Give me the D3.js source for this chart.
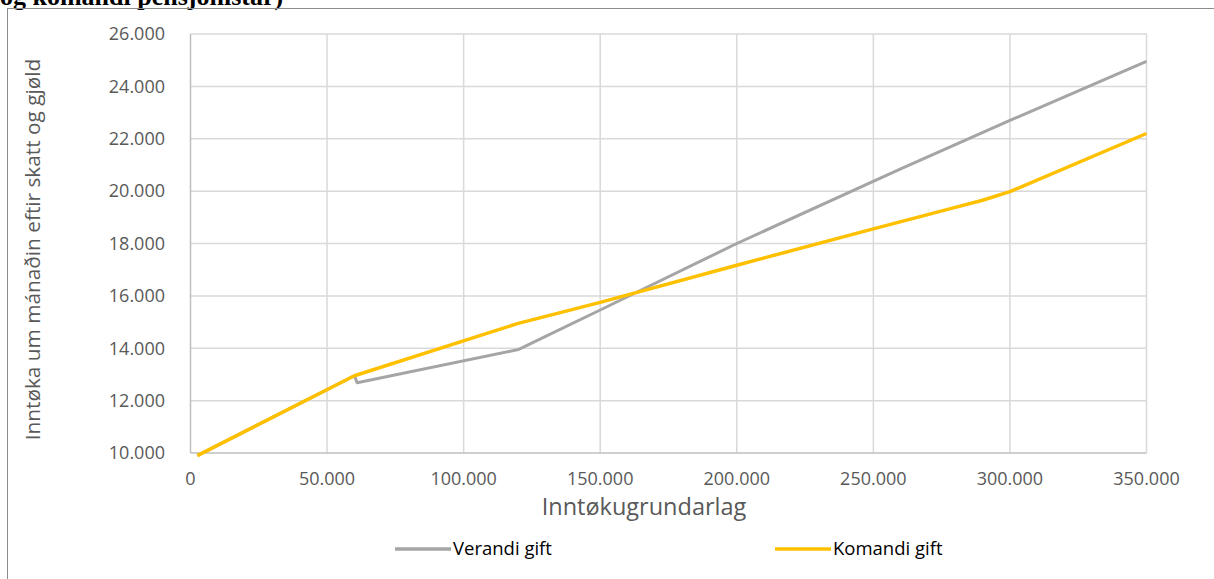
<!DOCTYPE html>
<html>
<head>
<meta charset="utf-8">
<script src="https://cdn.jsdelivr.net/npm/d3@7"></script>
<style>
  html, body { margin: 0; padding: 0; background: #fff; }
  svg { display: block; }
</style>
</head>
<body>
<svg width="1214" height="579"></svg>
<script>
// data
const verandiX = [2500, 60000, 61000, 120000, 130000, 150000, 200000, 260000, 300000, 350000];
const verandiY = [9900, 12950, 12680, 13950, 14450, 15460, 18000, 20850, 22700, 24950];
const komandiX = [2500, 60000, 120000, 150000, 200000, 250000, 280000, 290000, 300000, 350000];
const komandiY = [9900, 12950, 14950, 15750, 17170, 18560, 19380, 19650, 19980, 22200];
const xTicks = [0, 50000, 100000, 150000, 200000, 250000, 300000, 350000];
const yTicks = [10000, 12000, 14000, 16000, 18000, 20000, 22000, 24000, 26000];
const seriesNames = ["Verandi gift", "Komandi gift"];
const seriesColors = ["#a5a5a5", "#ffc000"];

const svg = d3.select("svg");
const width = +svg.attr("width");
const height = +svg.attr("height");
const font = "'Open Sans', sans-serif";

const loc = d3.formatLocale({ decimal: ",", thousands: ".", grouping: [3], currency: ["", ""] });
const fmt = loc.format(",d");

// cut-off title from the page above
svg.append("text")
  .attr("x", 0).attr("y", 5)
  .attr("font-family", "'Liberation Serif', 'Times New Roman', serif")
  .attr("font-weight", "bold")
  .attr("font-size", 26)
  .text("og komandi pensjónistar)");

// chart frame
svg.append("rect")
  .attr("x", 7.5).attr("y", 8.5)
  .attr("width", width + 10).attr("height", height + 10)
  .attr("fill", "none").attr("stroke", "#8c8c8c").attr("stroke-width", 1);

const plot = { left: 190.5, right: 1146.5, top: 34, bottom: 453 };

const x = d3.scaleLinear().domain([0, 350000]).range([plot.left, plot.right]);
const y = d3.scaleLinear().domain([10000, 26000]).range([plot.bottom, plot.top]);

// grid
svg.append("g").selectAll("line").data(yTicks.slice(1)).join("line")
  .attr("x1", plot.left).attr("x2", plot.right)
  .attr("y1", d => y(d)).attr("y2", d => y(d))
  .attr("stroke", "#d9d9d9").attr("stroke-width", 1.5);
svg.append("g").selectAll("line").data(xTicks.slice(1)).join("line")
  .attr("x1", d => x(d)).attr("x2", d => x(d))
  .attr("y1", plot.top).attr("y2", plot.bottom)
  .attr("stroke", "#d9d9d9").attr("stroke-width", 1.5);

// axis lines
svg.append("line")
  .attr("x1", plot.left).attr("x2", plot.left)
  .attr("y1", plot.top).attr("y2", plot.bottom)
  .attr("stroke", "#bfbfbf").attr("stroke-width", 1.5);
svg.append("line")
  .attr("x1", plot.left).attr("x2", plot.right)
  .attr("y1", plot.bottom).attr("y2", plot.bottom)
  .attr("stroke", "#bfbfbf").attr("stroke-width", 1.5);

// tick labels
svg.append("g").selectAll("text").data(yTicks).join("text")
  .attr("x", 165).attr("y", d => y(d))
  .attr("dy", "0.35em")
  .attr("text-anchor", "end")
  .attr("font-family", font).attr("font-size", 18)
  .attr("fill", "#595959")
  .text(d => fmt(d));
svg.append("g").selectAll("text").data(xTicks).join("text")
  .attr("x", d => x(d)).attr("y", 479)
  .attr("dy", "0.35em")
  .attr("text-anchor", "middle")
  .attr("font-family", font).attr("font-size", 18)
  .attr("fill", "#595959")
  .text(d => fmt(d));

// axis titles
svg.append("text")
  .attr("x", 644).attr("y", 515)
  .attr("text-anchor", "middle")
  .attr("font-family", font).attr("font-size", 23.5)
  .attr("fill", "#595959")
  .text("Inntøkugrundarlag");
svg.append("text")
  .attr("transform", `translate(40,${(plot.top + plot.bottom) / 2 + 6}) rotate(-90)`)
  .attr("text-anchor", "middle")
  .attr("font-family", font).attr("font-size", 20.8)
  .attr("fill", "#595959")
  .text("Inntøka um mánaðin eftir skatt og gjøld");

// lines
const line = d3.line().x(d => x(d[0])).y(d => y(d[1]));
const series = [
  d3.zip(verandiX, verandiY),
  d3.zip(komandiX, komandiY)
];
svg.append("g").selectAll("path").data(series).join("path")
  .attr("d", line)
  .attr("fill", "none")
  .attr("stroke", (d, i) => seriesColors[i])
  .attr("stroke-width", (d, i) => i === 0 ? 3 : 3.5)
  .attr("stroke-linejoin", "round");

// legend
const legendX = [395, 775];
const lg = svg.append("g").selectAll("g").data(seriesNames).join("g")
  .attr("transform", (d, i) => `translate(${legendX[i]},549)`);
lg.append("line")
  .attr("x1", 0).attr("x2", 56)
  .attr("stroke", (d, i) => seriesColors[i])
  .attr("stroke-width", 3.5);
lg.append("text")
  .attr("x", 58).attr("dy", "0.35em")
  .attr("font-family", font).attr("font-size", 18.5)
  .attr("fill", "#000")
  .text(d => d);
</script>
</body>
</html>
